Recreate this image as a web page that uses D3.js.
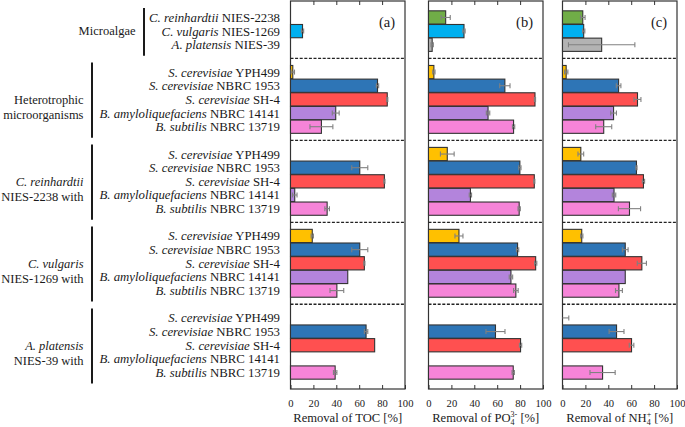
<!DOCTYPE html>
<html>
<head>
<meta charset="utf-8">
<script src="https://cdn.jsdelivr.net/npm/d3@7"></script>
<style>
  body { margin: 0; background: #fff; }
  svg { display: block; font-family: "Liberation Serif", "DejaVu Serif", serif; }
</style>
</head>
<body>
<div id="chart"></div>
<script>
// rows top to bottom: species (italic) + strain
const rowSpecies = [
  "C. reinhardtii", "C. vulgaris", "A. platensis",
  "S. cerevisiae", "S. cerevisiae", "S. cerevisiae", "B. amyloliquefaciens", "B. subtilis",
  "S. cerevisiae", "S. cerevisiae", "S. cerevisiae", "B. amyloliquefaciens", "B. subtilis",
  "S. cerevisiae", "S. cerevisiae", "S. cerevisiae", "B. amyloliquefaciens", "B. subtilis",
  "S. cerevisiae", "S. cerevisiae", "S. cerevisiae", "B. amyloliquefaciens", "B. subtilis",
];
const rowStrain = [
  "NIES-2238", "NIES-1269", "NIES-39",
  "YPH499", "NBRC 1953", "SH-4", "NBRC 14141", "NBRC 13719",
  "YPH499", "NBRC 1953", "SH-4", "NBRC 14141", "NBRC 13719",
  "YPH499", "NBRC 1953", "SH-4", "NBRC 14141", "NBRC 13719",
  "YPH499", "NBRC 1953", "SH-4", "NBRC 14141", "NBRC 13719",
];
const rowGroup = [0, 0, 0, 1, 1, 1, 1, 1, 2, 2, 2, 2, 2, 3, 3, 3, 3, 3, 4, 4, 4, 4, 4];
const rowColor = [
  "#70ad47", "#00b0f0", "#b3b3b3",
  "#ffc000", "#2e75b6", "#ff5050", "#b384dc", "#f684d8",
  "#ffc000", "#2e75b6", "#ff5050", "#b384dc", "#f684d8",
  "#ffc000", "#2e75b6", "#ff5050", "#b384dc", "#f684d8",
  "#ffc000", "#2e75b6", "#ff5050", "#b384dc", "#f684d8",
];

// group labels: [text, italic]
const groupLabels = [
  [["Microalgae", false]],
  [["Heterotrophic", false], ["microorganisms", false]],
  [["C. reinhardtii", true], ["NIES-2238 with", false]],
  [["C. vulgaris", true], ["NIES-1269 with", false]],
  [["A. platensis", true], ["NIES-39 with", false]],
];

// removal [%], null = not measured
const tocValues = [null, 10.5, null, 2, 76, 84.5, 39.5, 27, null, 60.5, 82, 3.7, 32,
  19, 60.5, 64.5, 50, 40.5, null, 66, 73.5, null, 39];
const tocErrors = [0, 1, 0, 1.5, 1, 0.5, 3, 10, 0, 7, 0.5, 2, 2,
  1, 7, 0.5, 0, 6, 0, 1.5, 0, 0, 1.5];
const po4Values = [15, 31, 3.2, 4.7, 66.7, 93, 52, 74.3, 16.4, 79.8, 92.4, 36.6, 79.2,
  26.6, 77.8, 93.6, 72, 76.3, null, 58.5, 80.4, null, 74];
const po4Errors = [4, 1, 1, 1, 4.5, 0.5, 1.5, 1, 6, 1, 0.5, 1, 1,
  3.5, 1, 1, 1.5, 2, 0, 8.3, 1, 0, 1];
const nh4Values = [17.7, 18.5, 34.2, 3.2, 49, 65.5, 44.6, 36, 16, 64.6, 70.7, 45, 58.5,
  16.8, 54.8, 69.3, 54.8, 49.3, 0, 47.2, 60.3, null, 35];
const nh4Errors = [2, 1, 29, 1.5, 2, 3, 2.5, 7, 2.5, 0.5, 1, 1.5, 9.7,
  1, 2.5, 4, 0, 3, 5.5, 6.5, 2, 0, 11];

const xTicks = [0, 20, 40, 60, 80, 100];
const panelTags = ["(a)", "(b)", "(c)"];

const panels = [
  { tag: panelTags[0], values: tocValues, errors: tocErrors, title: [["Removal of TOC [%]"]] },
  { tag: panelTags[1], values: po4Values, errors: po4Errors, title: [["Removal of PO"], ["4", "sub"], ["3-", "sup"], [" [%]"]] },
  { tag: panelTags[2], values: nh4Values, errors: nh4Errors, title: [["Removal of NH"], ["4", "sub"], ["+", "sup"], [" [%]"]] },
];

const W = 685, H = 427;
const plotTop = 1, plotBottom = 389;
const panelLeft = [290.5, 428.5, 562.5];
const panelWidth = 114.5;

const svg = d3.select("#chart").append("svg").attr("width", W).attr("height", H);

// slot list: rows with an empty slot between groups for the dashed divider
const slots = [];
rowGroup.forEach((g, i) => {
  if (i > 0 && rowGroup[i - 1] !== g) slots.push("sep" + g);
  slots.push("r" + i);
});
const y = d3.scaleBand().domain(slots).range([plotTop, plotBottom]).paddingInner(0.03).paddingOuter(0.72);
const yc = (key) => y(key) + y.bandwidth() / 2;
const sepKeys = slots.filter((s) => s.startsWith("sep"));

// row labels
const rowLabels = svg.append("g").attr("font-size", 12.8).attr("fill", "#1a1a1a");
rowSpecies.forEach((sp, i) => {
  const t = rowLabels.append("text")
    .attr("x", 280).attr("y", yc("r" + i)).attr("dy", "0.35em")
    .attr("text-anchor", "end");
  t.append("tspan").attr("font-style", "italic").text(sp);
  t.append("tspan").text(" " + rowStrain[i]);
});

// group brackets and labels
groupLabels.forEach((lines, g) => {
  const idx = d3.range(rowGroup.length).filter((i) => rowGroup[i] === g);
  const y0 = yc("r" + idx[0]) - 9.5;
  const y1 = yc("r" + idx[idx.length - 1]) + 11;
  const lx = g === 0 ? 144 : 92;
  svg.append("line")
    .attr("x1", lx).attr("x2", lx).attr("y1", y0).attr("y2", y1)
    .attr("stroke", "#1a1a1a").attr("stroke-width", 2);
  const mid = yc("r" + idx[Math.floor(idx.length / 2)]);
  lines.forEach(([txt, it], k) => {
    svg.append("text")
      .attr("x", lx - 8.5).attr("y", mid + k * 15.5).attr("dy", "0.35em")
      .attr("text-anchor", "end").attr("font-size", 12.5)
      .attr("font-style", it ? "italic" : "normal")
      .attr("fill", "#1a1a1a").text(txt);
  });
});

panels.forEach((p, pi) => {
  const x = d3.scaleLinear().domain([0, 100]).range([panelLeft[pi], panelLeft[pi] + panelWidth]);
  const g = svg.append("g");

  g.append("rect")
    .attr("x", x(0)).attr("y", plotTop).attr("width", x(100) - x(0)).attr("height", plotBottom - plotTop)
    .attr("fill", "none").attr("stroke", "#333").attr("stroke-width", 1.2);

  // dashed dividers
  g.selectAll("line.sep").data(sepKeys).join("line")
    .attr("class", "sep")
    .attr("x1", x(0)).attr("x2", x(100))
    .attr("y1", (d) => yc(d)).attr("y2", (d) => yc(d))
    .attr("stroke", "#222").attr("stroke-width", 1.3).attr("stroke-dasharray", "3,1.6");

  const rows = d3.range(p.values.length).filter((i) => p.values[i] !== null);

  g.selectAll("rect.bar").data(rows).join("rect")
    .attr("class", "bar")
    .attr("x", x(0))
    .attr("y", (i) => y("r" + i))
    .attr("width", (i) => x(p.values[i]) - x(0))
    .attr("height", y.bandwidth())
    .attr("fill", (i) => rowColor[i])
    .attr("stroke", "#333").attr("stroke-width", 1.1);

  const errRows = rows.filter((i) => p.errors[i] > 0);
  const eg = g.append("g").attr("stroke", "#808080").attr("stroke-width", 1.1);
  errRows.forEach((i) => {
    const cy = yc("r" + i);
    const lo = Math.max(0, p.values[i] - p.errors[i]);
    const hi = p.values[i] + p.errors[i];
    eg.append("line").attr("x1", x(lo)).attr("x2", x(hi)).attr("y1", cy).attr("y2", cy);
    [lo, hi].forEach((v) => {
      if (v <= 0) return;
      eg.append("line").attr("x1", x(v)).attr("x2", x(v)).attr("y1", cy - 2.5).attr("y2", cy + 2.5);
    });
  });

  // axes, ticks pointing inward
  g.append("g")
    .attr("transform", `translate(0,${plotBottom})`)
    .call(d3.axisBottom(x).tickValues(xTicks).tickSize(-4).tickPadding(10))
    .call((a) => a.select(".domain").remove())
    .call((a) => a.selectAll("line").attr("stroke", "#333"))
    .call((a) => a.selectAll("text")
      .attr("font-family", "Liberation Serif, serif")
      .attr("font-size", 10.6).attr("fill", "#1a1a1a"));

  g.append("g")
    .attr("transform", `translate(0,${plotTop})`)
    .call(d3.axisTop(x).tickValues(xTicks.slice(1, -1)).tickSize(-4).tickFormat(""))
    .call((a) => a.select(".domain").remove())
    .call((a) => a.selectAll("line").attr("stroke", "#333"));

  g.append("text")
    .attr("x", x(100) - 10).attr("y", 27)
    .attr("text-anchor", "end").attr("font-size", 14.5).attr("fill", "#1a1a1a")
    .text(p.tag);

  // axis title with sub/superscripts
  const t = g.append("text")
    .attr("x", x(50)).attr("y", 422)
    .attr("text-anchor", "middle").attr("font-size", 12.6).attr("fill", "#1a1a1a");
  p.title.forEach(([txt, kind]) => {
    const s = t.append("tspan").text(txt);
    if (kind === "sub") s.attr("font-size", 8).attr("dy", 2.5);
    else if (kind === "sup") s.attr("font-size", 8).attr("dx", -4).attr("dy", -7.5);
    else if (kind === undefined && txt.startsWith(" ")) s.attr("dy", 5);
  });
});
</script>
</body>
</html>
